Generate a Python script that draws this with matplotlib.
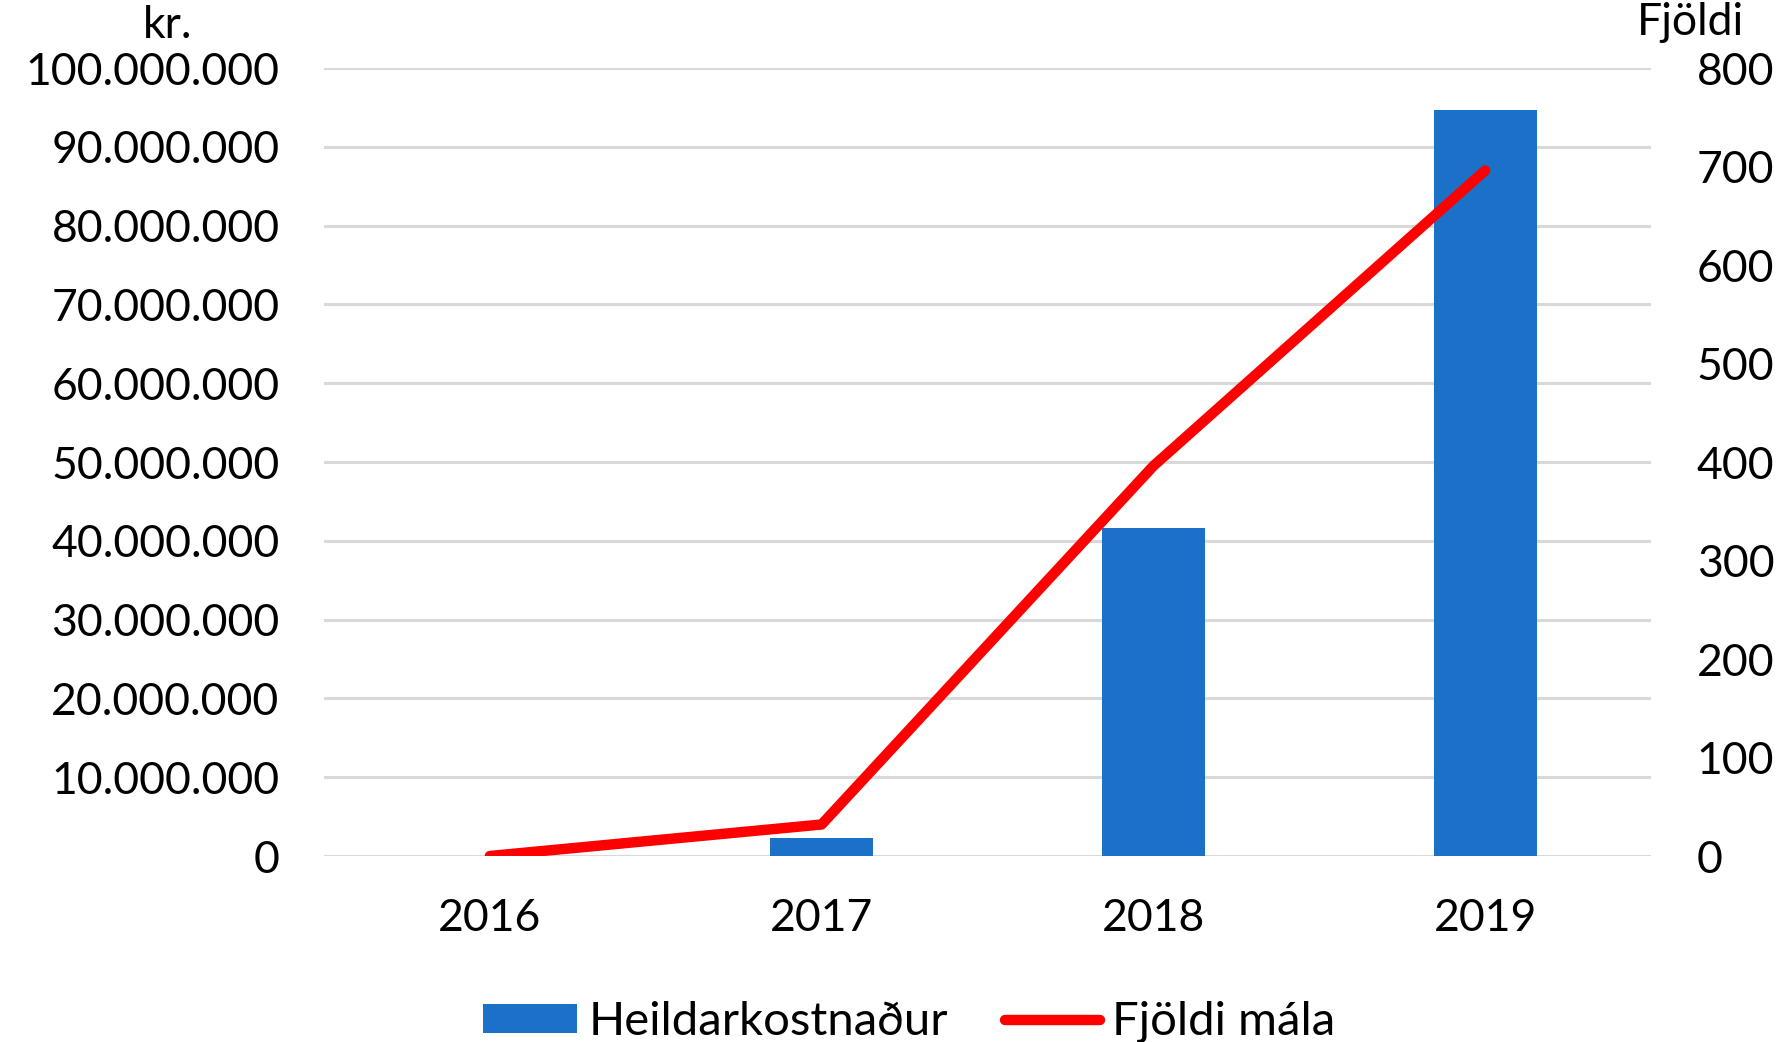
import numpy as np
import matplotlib
matplotlib.use("Agg")
import matplotlib.pyplot as plt
from matplotlib.ticker import FuncFormatter
from matplotlib.patches import Patch
from matplotlib.lines import Line2D

years = ["2016", "2017", "2018", "2019"]
cost_kr = [0, 2300000, 41600000, 94700000]      # Heildarkostnaður
case_count = [0, 32, 396, 696]                   # Fjöldi mála

bar_color = "#1a71c7"
line_color = "#ff0000"
grid_color = "#d9d9d9"

plt.rcParams["font.family"] = ["Lato", "DejaVu Sans"]
FS = 32
LEG_FS = 34


def dots(v, pos):
    return f"{int(v):,}".replace(",", ".")


def main():
    fig = plt.figure(figsize=(17.82, 10.42), dpi=100)
    ax = fig.add_axes([0.1818, 0.1785, 0.7447, 0.7562])
    ax2 = ax.twinx()

    x = np.arange(len(years))
    ax.bar(x, cost_kr, width=0.31, color=bar_color, zorder=2)
    ax2.plot(x, case_count, color=line_color, lw=7.5,
             solid_capstyle="round", solid_joinstyle="round", zorder=3)

    # axes ranges
    ax.set_xlim(-0.5, 3.5)
    ax.set_ylim(0, 100000000)
    ax.set_yticks(np.arange(0, 100000001, 10000000))
    ax.yaxis.set_major_formatter(FuncFormatter(dots))
    ax2.set_ylim(0, 800)
    ax2.set_yticks(np.arange(0, 801, 100))

    ax.set_xticks(x)
    ax.set_xticklabels(years)

    ax.yaxis.grid(True, color=grid_color, lw=2.2, zorder=0)
    ax.set_axisbelow(True)
    for a in (ax, ax2):
        for s in a.spines.values():
            s.set_visible(False)
    ax.tick_params(axis="y", length=0, pad=32, labelsize=FS)
    ax.tick_params(axis="x", length=0, pad=30, labelsize=FS)
    ax2.tick_params(axis="y", length=0, pad=33, labelsize=FS)
    for lab in ax2.get_yticklabels():
        lab.set_horizontalalignment("left")

    # axis unit labels at the top corners
    fig.text(0.0943, 0.964, "kr.", fontsize=FS, ha="center", va="baseline")
    fig.text(0.9186, 0.966, "Fjöldi", fontsize=FS, ha="left", va="baseline")

    handles = [Patch(facecolor=bar_color, edgecolor="none"),
               Line2D([0], [0], color=line_color, lw=7.5, solid_capstyle="round")]
    fig.legend(handles, ["Heildarkostnaður", "Fjöldi mála"],
               loc="lower center", bbox_to_anchor=(0.51, -0.042), ncol=2,
               frameon=False, fontsize=LEG_FS, handlelength=2.0,
               handleheight=0.55, handletextpad=0.25, columnspacing=1.2)

    fig.savefig("out.png", dpi=100)


if __name__ == "__main__":
    main()
